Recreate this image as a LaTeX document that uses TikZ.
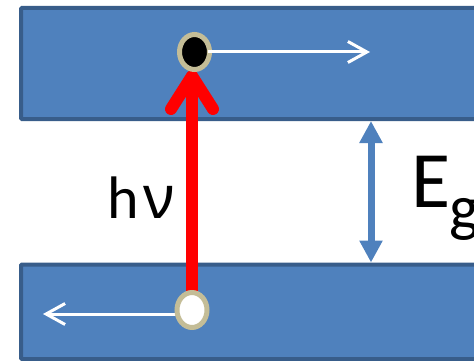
\documentclass[tikz,border=0pt]{standalone}
\usepackage{fontspec}
\setmainfont{Carlito}
\newfontfamily\greekfont{Noto Sans}
\usetikzlibrary{arrows.meta,shapes.geometric}
\definecolor{bandfill}{RGB}{79,129,189}
\definecolor{bandline}{RGB}{56,93,138}
\definecolor{ringcol}{RGB}{196,189,151}
\begin{document}
\begin{tikzpicture}[x=1pt,y=-1pt,
  band/.style={draw=bandline,fill=bandfill,line width=4pt,rounded corners=1pt,
    inner sep=0pt,outer sep=2pt,anchor=north west},
  carrier/.style={shape=ellipse,draw=ringcol,line width=5pt,minimum width=30pt,
    minimum height=35pt,inner sep=0pt,outer sep=0pt},
  drift/.style={draw=white,line width=3pt,-{Straight Barb[length=19pt,width=21pt]}},
  photon/.style={draw=red,line width=12pt},
  photonhead/.style={draw=red,line width=12pt,line cap=round,line join=round},
  gaparrow/.style={draw=bandfill,line width=7pt,
    {Triangle[length=22pt,width=22pt]}-{Triangle[length=22pt,width=22pt]}},
  label/.style={inner sep=0pt,anchor=base west}]
\useasboundingbox (0,0) rectangle (474,361);
\clip (0,0) rectangle (474,361);

% conduction and valence bands
\node[band,minimum width=471pt,minimum height=111pt] (cb) at (19,6) {};
\node[band,minimum width=471pt,minimum height=94.5pt] (vb) at (19,262.5) {};

% photon absorption
\coordinate (hx) at (192,310);
\coordinate (ex) at (194.5,52);
\coordinate (tip) at (192,76);
\draw[photon] (hx) -- (hx |- tip);
\draw[photonhead] ([shift={(-21,33)}]tip) -- (tip) -- ([shift={(21,33)}]tip);

% hole drifting left
\coordinate (hend) at (43,314);
\draw[drift] (hend -| hx) -- (hend);
\node[carrier,fill=white] (hole) at (hx) {};

% electron drifting right
\node[carrier,fill=black] (elec) at (ex) {};
\coordinate (eend) at (370,52);
\draw[drift] ([xshift=-2pt]elec.east) -- (eend);

% band gap
\coordinate (gx) at (371,0);
\draw[gaparrow] (cb.south -| gx) -- (vb.north -| gx);

% labels
\node[label] (hnu) at (107,218)
  {\fontsize{60}{60}\selectfont h\kern5pt{\greekfont\fontsize{60}{60}\selectfont ν}};
\node[label] (eg) at (411,207)
  {\fontsize{80}{80}\selectfont E\kern-1pt\raisebox{-22pt}{\fontsize{64}{64}\selectfont g}};
\end{tikzpicture}
\end{document}
